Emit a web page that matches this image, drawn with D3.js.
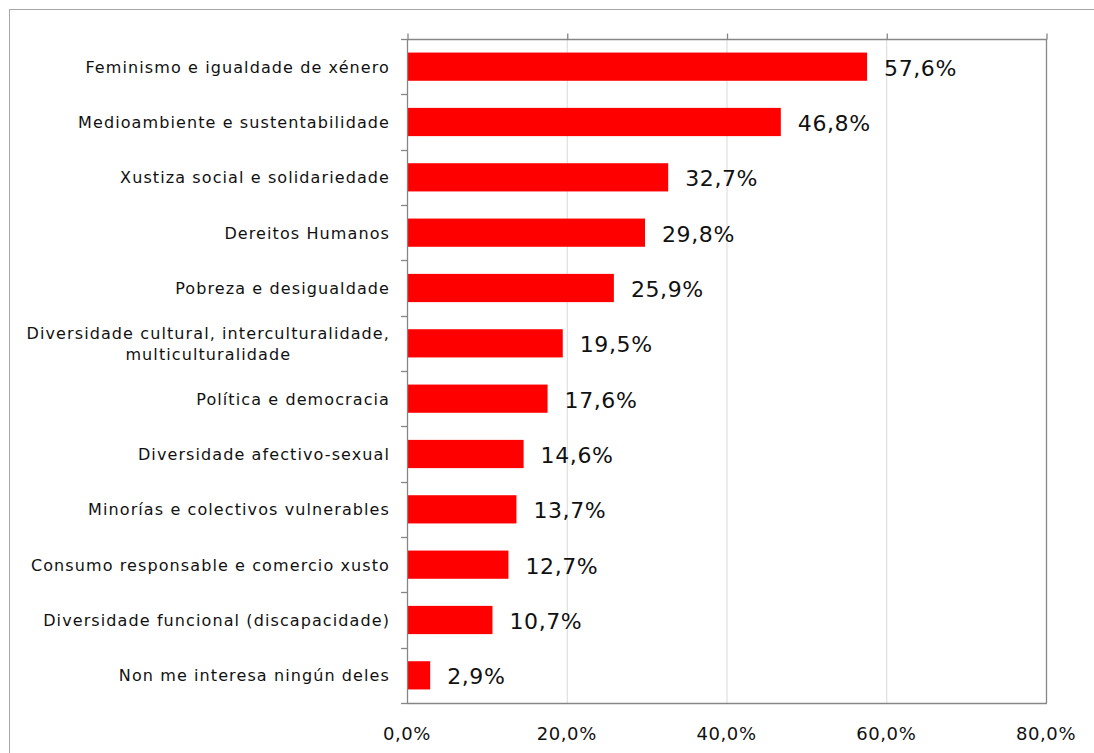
<!DOCTYPE html>
<html>
<head>
<meta charset="utf-8">
<script src="https://cdn.jsdelivr.net/npm/d3@7"></script>
<style>
  body { margin: 0; background: #fff; }
  svg { display: block; }
  text { font-family: "DejaVu Sans", sans-serif; fill: #111; }
</style>
</head>
<body>
<svg id="chart"></svg>
<script>
// categories top to bottom, value in %
var categories = [
  "Feminismo e igualdade de xénero",
  "Medioambiente e sustentabilidade",
  "Xustiza social e solidariedade",
  "Dereitos Humanos",
  "Pobreza e desigualdade",
  "Diversidade cultural, interculturalidade,|multiculturalidade",
  "Política e democracia",
  "Diversidade afectivo-sexual",
  "Minorías e colectivos vulnerables",
  "Consumo responsable e comercio xusto",
  "Diversidade funcional (discapacidade)",
  "Non me interesa ningún deles"
]
var values = [57.6, 46.8, 32.7, 29.8, 25.9, 19.5, 17.6, 14.6, 13.7, 12.7, 10.7, 2.9]
var xTicks = [0, 20, 40, 60, 80]

var width = 1094, height = 753
var plotLeft = 407, plotRight = 1046, plotTop = 39, plotBottom = 703

var svg = d3.select("#chart").attr("width", width).attr("height", height)

// outer frame of the chart object
svg.append("rect")
    .attr("x", 9.5).attr("y", 9.5)
    .attr("width", width + 20).attr("height", height + 20)
    .attr("fill", "none").attr("stroke", "#a6a6a6").attr("stroke-width", 1)

var x = d3.scaleLinear().domain([0, 80]).range([plotLeft, plotRight])
var y = d3.scaleBand().domain(categories).range([plotTop, plotBottom]).paddingInner(0.49).paddingOuter(0.245)
var yStep = d3.scaleBand().domain(categories).range([plotTop, plotBottom])

var fmt = function(v) { return v.toFixed(1).replace(".", ",") + "%" }

// vertical gridlines
svg.append("g").selectAll("line")
    .data(xTicks.slice(1, -1))
    .join("line")
    .attr("x1", d => x(d) + 0.5).attr("x2", d => x(d) + 0.5)
    .attr("y1", plotTop).attr("y2", plotBottom)
    .attr("stroke", "#d9d9d9").attr("stroke-width", 1)

// bars
svg.append("g").selectAll("rect")
    .data(values)
    .join("rect")
    .attr("x", x(0))
    .attr("y", (d, i) => y(categories[i]))
    .attr("width", d => x(d) - x(0))
    .attr("height", y.bandwidth())
    .attr("fill", "#ff0000")

// value labels
svg.append("g").selectAll("text")
    .data(values)
    .join("text")
    .attr("x", d => x(d) + 17)
    .attr("y", (d, i) => y(categories[i]) + y.bandwidth() / 2 + 9)
    .attr("font-size", "22px")
    .attr("letter-spacing", "0.6px")
    .text(d => fmt(d))

// plot border lines: top axis, right, bottom, left
var axisColor = "#868686"
var topAxis = d3.axisTop(x).tickValues(xTicks).tickSize(6).tickFormat("")
svg.append("g").attr("transform", "translate(0.5," + (plotTop + 0.5) + ")").call(topAxis)
    .call(g => g.selectAll("path, line").attr("stroke", axisColor).attr("stroke-width", 1.3))
    .call(g => g.select(".domain").attr("d", "M" + plotLeft + ",0H" + plotRight))

svg.append("line").attr("x1", plotRight + 0.5).attr("x2", plotRight + 0.5).attr("y1", plotTop).attr("y2", plotBottom)
    .attr("stroke", axisColor).attr("stroke-width", 1.3)
svg.append("line").attr("x1", plotLeft).attr("x2", plotRight + 1).attr("y1", plotBottom + 0.5).attr("y2", plotBottom + 0.5)
    .attr("stroke", axisColor).attr("stroke-width", 1.3)

// left axis with ticks at band boundaries
var bounds = categories.map(c => yStep(c)).concat([plotBottom])
svg.append("line").attr("x1", plotLeft + 0.5).attr("x2", plotLeft + 0.5).attr("y1", plotTop).attr("y2", plotBottom)
    .attr("stroke", axisColor).attr("stroke-width", 1.3)
svg.append("g").selectAll("line")
    .data(bounds)
    .join("line")
    .attr("x1", plotLeft - 6).attr("x2", plotLeft)
    .attr("y1", d => Math.round(d) + 0.5).attr("y2", d => Math.round(d) + 0.5)
    .attr("stroke", axisColor).attr("stroke-width", 1.3)

// category labels
var labelX = 390
categories.forEach(function(c, i) {
  var lines = c.split("|")
  var cy = yStep(c) + yStep.bandwidth() / 2
  var lbl = function(t) {
    return svg.append("text").attr("font-size", "16px").attr("letter-spacing", "1.1px").text(t)
  }
  if (lines.length === 1) {
    lbl(lines[0]).attr("x", labelX).attr("y", cy + 6).attr("text-anchor", "end")
  } else {
    var t1 = lbl(lines[0]).attr("x", labelX).attr("y", cy - 4).attr("text-anchor", "end")
    var w = t1.node().getComputedTextLength()
    lbl(lines[1]).attr("x", labelX - w / 2).attr("y", cy + 17).attr("text-anchor", "middle")
  }
})

// x tick labels at the bottom
svg.append("g").selectAll("text")
    .data(xTicks)
    .join("text")
    .attr("x", d => x(d))
    .attr("y", 740)
    .attr("text-anchor", "middle")
    .attr("font-size", "18px")
    .attr("letter-spacing", "0.6px")
    .text(d => fmt(d))
</script>
</body>
</html>
